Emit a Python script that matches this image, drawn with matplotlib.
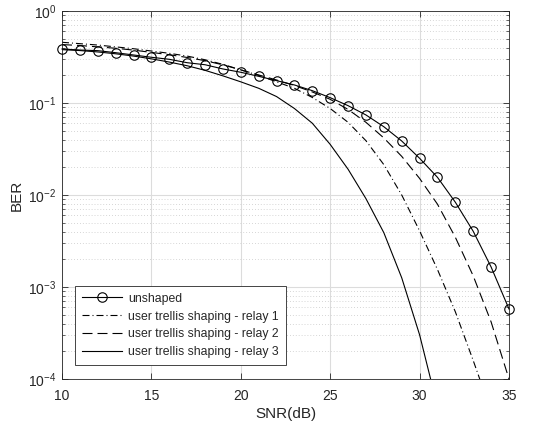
import matplotlib
matplotlib.use('Agg')
import matplotlib.pyplot as plt
import numpy as np

rcparams = {
    'font.family': ['Liberation Sans', 'DejaVu Sans'],
    'font.size': 10,
    'axes.labelsize': 11,
    'xtick.labelsize': 10,
    'ytick.labelsize': 10,
    'legend.fontsize': 8.8,
    'axes.linewidth': 0.6,
    'axes.edgecolor': '#262626',
    'xtick.color': '#262626',
    'ytick.color': '#262626',
    'text.color': '#262626',
    'axes.labelcolor': '#262626',
    'xtick.direction': 'in',
    'ytick.direction': 'in',
    'xtick.top': True,
    'ytick.right': True,
    'mathtext.default': 'regular',
}
matplotlib.rcParams.update(rcparams)

# SNR axis (dB)
snr = np.arange(10, 36)

# log10(BER)
unshaped_log = [-0.413, -0.424, -0.431, -0.453, -0.478, -0.503, -0.525, -0.562,
                -0.584, -0.630, -0.666, -0.710, -0.757, -0.804, -0.866, -0.942,
                -1.029, -1.130, -1.258, -1.413, -1.601, -1.808, -2.079, -2.395,
                -2.783, -3.239]
relay1_log = [-0.340, -0.355, -0.370, -0.390, -0.410, -0.435, -0.460, -0.490,
              -0.530, -0.580, -0.640, -0.700, -0.770, -0.840, -0.940, -1.060,
              -1.210, -1.410, -1.670, -2.000, -2.390, -2.810, -3.270, -3.800,
              -4.350]
relay2_log = [-0.365, -0.375, -0.390, -0.405, -0.425, -0.450, -0.475, -0.505,
              -0.540, -0.585, -0.640, -0.695, -0.750, -0.810, -0.880, -0.960,
              -1.070, -1.210, -1.380, -1.580, -1.820, -2.100, -2.460, -2.880,
              -3.380, -4.000]
relay3_log = [-0.420, -0.430, -0.445, -0.465, -0.490, -0.520, -0.555, -0.595,
              -0.645, -0.705, -0.770, -0.840, -0.930, -1.060, -1.220, -1.450,
              -1.720, -2.040, -2.410, -2.900, -3.520, -4.300]

labels = ['unshaped',
          'user trellis shaping - relay 1',
          'user trellis shaping - relay 2',
          'user trellis shaping - relay 3']

unshaped = 10.0 ** np.array(unshaped_log)
relay1 = 10.0 ** np.array(relay1_log)
relay2 = 10.0 ** np.array(relay2_log)
relay3 = 10.0 ** np.array(relay3_log)

fig = plt.figure(figsize=(5.46, 4.25), dpi=100)
ax = fig.add_axes([62/546, 46/425, 447/546, 368/425])

lw = 0.8
ax.semilogy(snr, unshaped, '-', color='k', lw=lw, marker='o', markersize=6.8,
            markerfacecolor='none', markeredgewidth=0.8, label=labels[0], clip_on=False, zorder=5)
ax.semilogy(snr[:len(relay1)], relay1, color='k', lw=lw, dashes=(6.3, 2.7, 0.9, 2.7), label=labels[1])
ax.semilogy(snr[:len(relay2)], relay2, color='k', lw=lw, dashes=(9, 4.5), label=labels[2])
ax.semilogy(snr[:len(relay3)], relay3, '-', color='k', lw=lw, label=labels[3])

ax.set_xlim(10, 35)
ax.set_ylim(1e-4, 1)
ax.set_xticks([10, 15, 20, 25, 30, 35])
ax.xaxis.set_minor_locator(matplotlib.ticker.NullLocator())
ax.yaxis.set_major_locator(matplotlib.ticker.LogLocator(base=10, numticks=10))
ax.yaxis.set_minor_locator(matplotlib.ticker.LogLocator(base=10, subs=np.arange(2, 10), numticks=10))
ax.yaxis.set_minor_formatter(matplotlib.ticker.NullFormatter())
ax.tick_params(which='major', length=4, width=0.6)
ax.tick_params(axis='x', which='major', pad=7)
ax.tick_params(axis='y', which='major', pad=4)
ax.tick_params(which='minor', length=2, width=0.5)

ax.grid(True, which='major', color='#dcdcdc', lw=0.8, ls='-')
ax.grid(True, which='minor', axis='y', color='#c8c8c8', lw=0.6, ls=(0, (1, 2.5)))
ax.set_axisbelow(True)

ax.set_xlabel('SNR(dB)', labelpad=3)
ax.set_ylabel('BER', labelpad=3)

leg = ax.legend(loc='lower left', bbox_to_anchor=(13/447, 14/368), borderaxespad=0,
                handlelength=3.3, handletextpad=0.5, borderpad=0.55, labelspacing=0.48,
                fancybox=False, framealpha=1, edgecolor='#262626')
leg.get_frame().set_linewidth(0.6)

plt.savefig('out.png', dpi=100)
